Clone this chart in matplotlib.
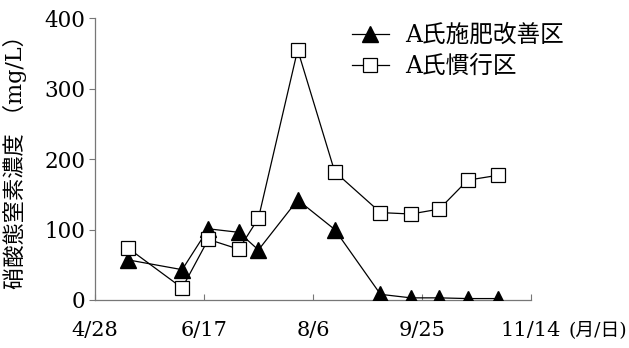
import matplotlib
matplotlib.use("Agg")
import matplotlib.pyplot as plt

# days after 4/28
days = [15, 40, 52, 66, 75, 93, 110, 131, 145, 158, 171, 185]
improved = [57, 43, 101, 96, 71, 142, 100, 8, 3, 3, 2, 2]
conventional = [74, 17, 86, 72, 116, 355, 182, 124, 122, 129, 170, 177]
tick_pos = [0, 50, 100, 150, 200]
tick_labels = ["4/28", "6/17", "8/6", "9/25", "11/14"]
y_ticks = [0, 100, 200, 300, 400]
series_names = ["A氏施肥改善区", "A氏慣行区"]
ylabel = "硝酸態窒素濃度 （mg/L）"
xunit = "(月/日)"

mixed = ["DejaVu Serif", "Noto Sans CJK JP"]
serif = ["DejaVu Serif"]

fig = plt.figure(figsize=(6.29, 3.48), dpi=100)
ax = fig.add_axes([0.151, 0.138, 0.693, 0.81])

ax.plot(days, improved, color="black", lw=0.9, marker="^", ms=11,
        mfc="black", mec="black", label=series_names[0], zorder=3)
ax.plot(days, conventional, color="black", lw=0.9, marker="s", ms=10,
        mfc="white", mec="black", mew=0.9, label=series_names[1], zorder=3)

ax.set_xlim(0, 200)
ax.set_ylim(0, 400)
ax.set_xticks(tick_pos)
ax.set_xticklabels(tick_labels, family=serif, fontsize=15)
ax.set_yticks(y_ticks)
ax.set_yticklabels([str(v) for v in y_ticks], family=serif, fontsize=15.5)
ax.tick_params(axis="x", direction="in", length=4, color="#777777", pad=15)
ax.tick_params(axis="y", direction="out", length=4, color="#777777", pad=3)

for s in ["top", "right"]:
    ax.spines[s].set_visible(False)
for s in ["left", "bottom"]:
    ax.spines[s].set_color("#777777")
    ax.spines[s].set_linewidth(0.9)

ax.set_ylabel(ylabel, family=mixed, fontsize=16)
ax.yaxis.set_label_coords(-0.156, 0.51)

fig.text(0.997, 0.052, xunit, family=mixed, fontsize=13.5, ha="right", va="center")

leg = ax.legend(loc="upper left", bbox_to_anchor=(352 / 629, 1 - 24 / 348),
                bbox_transform=fig.transFigure, frameon=False,
                prop={"family": mixed, "size": 17}, handlelength=1.55,
                handletextpad=0.7, labelspacing=0.35, borderpad=0,
                borderaxespad=0)

fig.savefig("out.png", dpi=100, facecolor="white")
